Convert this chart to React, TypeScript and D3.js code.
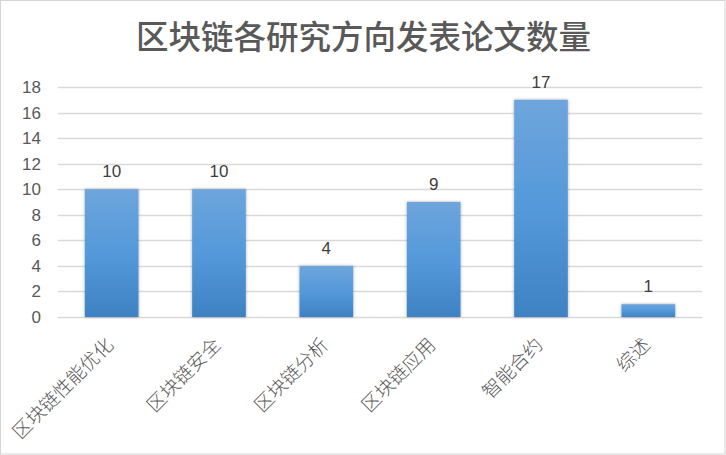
import React from "react";
import * as d3 from "d3";

const categories = ["区块链性能优化", "区块链安全", "区块链分析", "区块链应用", "智能合约", "综述"];
const counts = [10, 10, 4, 9, 17, 1];
const yTicks = [0, 2, 4, 6, 8, 10, 12, 14, 16, 18];
const title = "区块链各研究方向发表论文数量";

const W = 726;
const H = 455;

export default function App() {
  const x = d3.scaleBand<string>().domain(categories).range([58, 702]).paddingInner(0.5).paddingOuter(0.25);
  const y = d3.scaleLinear().domain([0, 18]).range([317, 87]);
  const numFont = "'Liberation Sans', Arial, sans-serif";
  const cjkFont = "'Noto Sans CJK SC', sans-serif";

  return (
    <svg width={W} height={H} style={{ position: "absolute", left: 0, top: 0, background: "#fff" }}>
      <defs>
        <linearGradient id="barGrad" x1="0" y1="0" x2="0" y2="1">
          <stop offset="0%" stopColor="#6ea5dc" />
          <stop offset="50%" stopColor="#5499da" />
          <stop offset="100%" stopColor="#3f82c3" />
        </linearGradient>
        <filter id="shadow" x="-20%" y="-20%" width="140%" height="140%">
          <feDropShadow dx="0" dy="0" stdDeviation="1.6" floodColor="#000" floodOpacity="0.35" />
        </filter>
      </defs>
      <rect x={0.5} y={0.5} width={W - 1.5} height={H - 1.5} fill="#fff" stroke="#d4d4d4" strokeWidth={1} />
      <text x={363.5} y={49} textAnchor="middle" fontFamily={cjkFont} fontSize={32.5} fontWeight={500} fill="#595959">
        {title}
      </text>
      {yTicks.map((t) => (
        <g key={t}>
          <line x1={58} x2={702} y1={Math.round(y(t)) + 0.5} y2={Math.round(y(t)) + 0.5} stroke="#d9d9d9" strokeWidth={1.3} />
          <text x={41} y={y(t) + 6} textAnchor="end" fontFamily={numFont} fontSize={17} fill="#595959">
            {t}
          </text>
        </g>
      ))}
      {categories.map((c, i) => {
        const bx = x(c)!;
        const bw = x.bandwidth();
        const top = y(counts[i]);
        const cx = bx + bw / 2;
        return (
          <g key={c}>
            <rect x={bx} y={top} width={bw} height={y(0) - top} fill="url(#barGrad)" filter="url(#shadow)" />
            <text x={cx} y={top - 12} textAnchor="middle" fontFamily={numFont} fontSize={17} fill="#404040">
              {counts[i]}
            </text>
            <text
              transform={`translate(${cx + 3},${y(0) + 29}) rotate(-45)`}
              textAnchor="end"
              fontFamily={cjkFont}
              fontSize={19}
              fontWeight={300}
              fill="#595959"
            >
              {c}
            </text>
          </g>
        );
      })}
    </svg>
  );
}
